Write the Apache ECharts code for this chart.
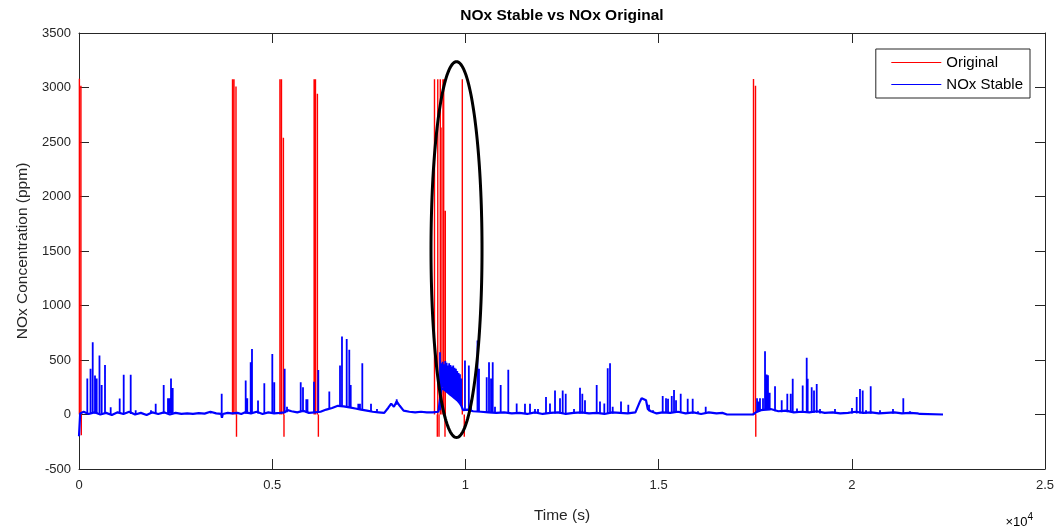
<!DOCTYPE html>
<html><head><meta charset="utf-8">
<script src="https://cdn.jsdelivr.net/npm/echarts@6/dist/echarts.min.js"></script>
<style>html,body{margin:0;padding:0;background:#fff}#c{width:1060px;height:529px}</style>
</head><body><div id="c"></div>
<script>
// ---- data (time in s, concentration in ppm) ----
const chartTitle = 'NOx Stable vs NOx Original';
const xName = 'Time (s)';
const yName = 'NOx Concentration (ppm)';
const seriesNames = ['Original', 'NOx Stable'];

// Original signal: spikes that differ from the stable signal [t, peak]
const originalSpikes = [
 [10,3080],[50,3015],[60,-190],
 [3973,3075],[4011,3075],[4063,3010],[4076,-205],
 [5200,3075],[5240,3075],[5290,2540],[5305,-205],
 [6085,3075],[6120,3075],[6170,2943],[6195,-205],
 [9200,3075],[9273,-205],[9285,3075],[9317,-205],[9350,3075],[9369,2634],[9420,3075],[9438,3075],
 [9472,-205],[9480,1870],[9920,3075],[9971,-205],
 [17456,3078],[17508,3015],[17515,-205]
];

// NOx Stable: floor readings [t, value]
const stableBase = [
 [0,-200],[30,10],[120,25],[250,5],[400,20],[550,0],[700,15],[850,-5],[1000,20],[1150,5],[1300,25],[1450,0],
 [1600,15],[1750,-5],[1900,20],[2050,5],[2200,20],[2350,0],[2500,15],[2650,5],[2800,10],[2950,5],[3100,12],
 [3250,8],[3400,25],[3550,10],[3680,5],[3700,-30],[3720,5],[3850,15],[3950,10],[4100,15],[4200,5],[4300,20],
 [4450,10],[4600,25],[4750,5],[4900,20],[5050,10],[5200,15],[5320,20],[5400,40],[5500,30],[5650,20],[5800,35],
 [5950,15],[6100,20],[6250,25],[6400,45],[6550,60],[6700,80],[6850,75],[7000,65],[7150,55],[7300,45],[7450,35],
 [7600,25],[7750,20],[7900,15],[8000,60],[8080,100],[8150,70],[8220,120],[8300,80],[8400,35],[8550,25],[8700,20],
 [8850,25],[9000,20],[9150,20],[9300,25],[9343,40],[9380,240],[9410,250],[9445,230],[9480,220],[9515,210],
 [9550,200],[9580,190],[9615,180],[9650,170],[9685,160],[9720,150],[9755,140],[9790,130],[9825,120],[9860,100],
 [9895,80],[9940,40],[10050,45],[10200,30],[10400,25],[10600,20],[10800,15],[11000,20],[11200,10],[11400,15],
 [11600,5],[11800,20],[12000,5],[12200,15],[12400,20],[12600,5],[12800,15],[13000,20],[13200,10],[13400,15],
 [13600,5],[13800,20],[14000,15],[14200,10],[14400,20],[14519,120],[14560,150],[14600,160],[14674,130],[14720,50],
 [14800,30],[14950,10],[15100,20],[15300,15],[15500,25],[15700,10],[15900,20],[16100,5],[16300,20],[16500,10],
 [16650,15],[16770,0],[17443,0],[17520,20],[17650,40],[17900,50],[18100,30],[18300,35],[18500,20],[18700,25],
 [18900,20],[19100,30],[19300,15],[19500,20],[19700,10],[19900,15],[20100,25],[20300,15],[20500,20],[20700,10],
 [20900,15],[21100,20],[21300,10],[21500,15],[21700,10],[21765,5],[22360,0]
];

// NOx Stable: peaks [t, floor, peak]
const stableSpikes = [
 [215,10,330],[298,10,420],[355,15,663],[414,10,357],[458,10,330],[530,10,541],[587,10,270],[673,10,455],
 [820,5,67],[1053,10,147],[1157,10,364],[1338,5,364],[1467,5,40],[1863,10,40],[1985,10,98],[2192,10,270],
 [2303,10,150],[2347,10,150],[2381,10,330],[2425,10,242],[3408,10,30],[3693,10,191],
 [4314,10,312],[4355,10,150],[4443,10,480],[4477,10,602],[4633,10,128],[4796,10,287],[5003,10,556],[5054,10,296],
 [5323,15,420],[5383,20,70],[5738,20,296],[5797,20,250],[5883,20,140],[5913,20,140],[6082,20,300],[6193,20,408],
 [6478,55,210],[6755,80,450],[6806,80,715],[6928,70,693],[6995,65,593],[7032,60,270],[7228,50,98],[7272,50,98],
 [7332,45,470],[7557,30,98],[7712,25,50],[8222,90,140],
 [9343,40,572],[9380,240,470],[9410,250,485],[9445,230,460],[9480,220,490],[9515,210,475],[9550,200,450],
 [9580,190,470],[9615,180,455],[9650,170,440],[9685,160,450],[9720,150,430],[9755,140,420],[9790,130,400],
 [9825,120,380],[9860,100,370],[9895,80,330],
 [9989,40,495],[10089,40,450],[10145,40,130],[10313,30,680],[10352,30,420],[10551,20,342],[10611,20,480],
 [10663,20,330],[10707,20,480],[10766,15,70],[10913,15,270],[11110,15,410],[11327,10,100],[11542,10,98],
 [11672,10,98],[11801,10,50],[11879,10,50],[12086,10,160],[12189,10,100],[12319,10,220],[12448,10,150],
 [12518,10,220],[12596,10,190],[12811,10,50],[12966,10,245],[13026,10,190],[13095,10,130],[13398,10,270],
 [13483,10,120],[13595,10,100],[13683,10,425],[13743,10,470],[13812,10,70],[14027,10,120],[14216,10,90],
 [14752,30,90],[14855,20,40],[15106,20,170],[15192,20,150],[15244,20,145],[15340,20,170],[15399,20,225],
 [15451,20,130],[15572,20,190],[15753,10,145],[15882,10,145],[16019,10,30],[16219,10,70],
 [17547,30,150],[17590,30,120],[17624,40,150],[17702,40,150],[17754,40,580],[17797,40,367],[17831,40,360],
 [17875,40,200],[18013,30,260],[18186,20,130],[18331,20,190],[18419,20,190],[18471,20,327],[18582,15,55],
 [18729,15,265],[18833,15,520],[18858,15,327],[18962,15,250],[19022,15,220],[19092,15,280],[19177,10,50],
 [19565,10,50],[20005,10,60],[20127,10,160],[20212,10,235],[20282,10,220],[20368,10,40],[20489,10,260],
 [20730,10,40],[21066,10,50],[21333,10,150],[21506,5,30]
];

// highlighted region (ellipse) in data units: centre [t, ppm], radii [t, ppm]
const ellipseCenter = [9770, 1513];
const ellipseRadius = [660, 1724];

// axis ranges
const xRange = [0, 25000], xStep = 5000;
const yRange = [-500, 3500], yStep = 500;

// ---- build ----
const redData = [];
originalSpikes.forEach(([t, p]) => { redData.push([t, 0], [t, p], [t, 0], [t, '-']); });
const spikeData = [];
stableSpikes.forEach(([t, b, p]) => { spikeData.push([t, b], [t, p], [t, b], [t, '-']); });

const axisCol = '#262626';
const FONT = '"Liberation Sans", Arial, Helvetica, sans-serif';

const chart = echarts.init(document.getElementById('c'), null, {renderer: 'canvas'});
chart.setOption({
  animation: false,
  backgroundColor: '#fff',
  textStyle: {fontFamily: FONT},
  grid: {left: 79, right: 15, top: 33, bottom: 60, containLabel: false},
  legend: {
    data: seriesNames, orient: 'vertical', right: 30, top: 49,
    itemWidth: 50, itemHeight: 12, itemGap: 7,
    padding: [6, 7, 6, 15],
    borderColor: axisCol, borderWidth: 1, backgroundColor: '#fff',
    textStyle: {fontSize: 15, color: '#000', fontFamily: FONT},
    itemStyle: {opacity: 0, borderWidth: 0},
    lineStyle: {width: 1}
  },
  xAxis: [{
    type: 'value', min: xRange[0], max: xRange[1], interval: xStep, position: 'bottom',
    axisLine: {show: true, onZero: false, lineStyle: {color: axisCol, width: 1}},
    axisTick: {show: true, inside: true, length: 10, lineStyle: {color: axisCol}},
    axisLabel: {fontSize: 13, color: axisCol, margin: 10, formatter: v => String(v / 10000)},
    splitLine: {show: false},
    name: xName, nameLocation: 'middle', nameGap: 39,
    nameTextStyle: {fontSize: 15.5, color: axisCol}
  }, {
    type: 'value', min: xRange[0], max: xRange[1], interval: xStep, position: 'top',
    axisLine: {show: true, onZero: false, lineStyle: {color: axisCol, width: 1}},
    axisTick: {show: true, inside: true, length: 10, lineStyle: {color: axisCol}},
    axisLabel: {show: false}, splitLine: {show: false},
    name: chartTitle, nameLocation: 'middle', nameGap: 9,
    nameTextStyle: {fontSize: 15.5, fontWeight: 'bold', color: '#000'}
  }],
  yAxis: [{
    type: 'value', min: yRange[0], max: yRange[1], interval: yStep, position: 'left',
    axisLine: {show: true, onZero: false, lineStyle: {color: axisCol, width: 1}},
    axisTick: {show: true, inside: true, length: 10, lineStyle: {color: axisCol}},
    axisLabel: {fontSize: 13, color: axisCol, margin: 8, formatter: v => String(v)},
    splitLine: {show: false},
    name: yName, nameLocation: 'middle', nameGap: 45, nameRotate: 90,
    nameTextStyle: {fontSize: 15.5, color: axisCol}
  }, {
    type: 'value', min: yRange[0], max: yRange[1], interval: yStep, position: 'right',
    axisLine: {show: true, onZero: false, lineStyle: {color: axisCol, width: 1}},
    axisTick: {show: true, inside: true, length: 10, lineStyle: {color: axisCol}},
    axisLabel: {show: false}, splitLine: {show: false}
  }],
  graphic: [{
    type: 'text', right: 27, top: 512,
    style: {
      text: '{a|×10}{s|4}',
      rich: {
        a: {fontSize: 13, color: axisCol, fontFamily: FONT, verticalAlign: 'bottom'},
        s: {fontSize: 10, color: axisCol, fontFamily: FONT, verticalAlign: 'bottom', padding: [0, 0, 7, 0]}
      }
    }
  }],
  series: [{
    name: seriesNames[0], type: 'line', data: redData, symbol: 'none', showSymbol: false,
    connectNulls: false, z: 2, lineStyle: {color: '#ff0000', width: 1.4}, itemStyle: {color: '#ff0000'}
  }, {
    name: seriesNames[1], type: 'line', data: stableBase, symbol: 'none', showSymbol: false,
    z: 3, lineStyle: {color: '#0000ff', width: 2.2}, itemStyle: {color: '#0000ff'}
  }, {
    name: seriesNames[1], type: 'line', data: spikeData, symbol: 'none', showSymbol: false,
    connectNulls: false, z: 3, lineStyle: {color: '#0000ff', width: 1.8}, itemStyle: {color: '#0000ff'}
  }, {
    name: 'highlight', type: 'custom', z: 10, silent: true, clip: false,
    data: [[ellipseCenter[0], ellipseCenter[1]]],
    renderItem: function (params, api) {
      const c = api.coord([api.value(0), api.value(1)]);
      const e = api.coord([api.value(0) + ellipseRadius[0], api.value(1) + ellipseRadius[1]]);
      const rx = Math.abs(e[0] - c[0]), ry = Math.abs(e[1] - c[1]);
      const pts = [];
      for (let i = 0; i <= 180; i++) {
        const a = i / 180 * 2 * Math.PI;
        pts.push([c[0] + rx * Math.cos(a), c[1] + ry * Math.sin(a)]);
      }
      return {type: 'polyline', shape: {points: pts}, style: {fill: null, stroke: '#000', lineWidth: 3}};
    }
  }]
});
</script>
</body></html>
